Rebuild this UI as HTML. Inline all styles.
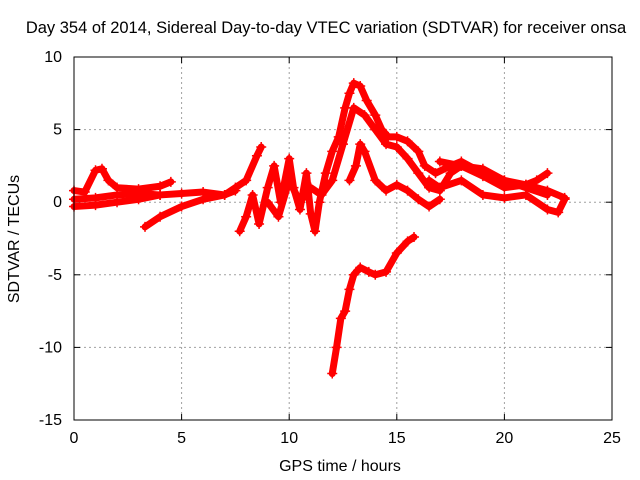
<!DOCTYPE html>
<html><head><meta charset="utf-8"><style>
body{margin:0;background:#fff;}
svg{display:block;font-family:"Liberation Sans",sans-serif;}
</style></head><body>
<svg id="chart" width="640" height="480">
<rect width="640" height="480" fill="#fff"/>
<text x="326" y="33" text-anchor="middle" font-size="16.5">Day 354 of 2014, Sidereal Day-to-day VTEC variation (SDTVAR) for receiver onsa</text>
<text x="340" y="471" text-anchor="middle" font-size="16">GPS time / hours</text>
<text transform="translate(19,239) rotate(-90)" text-anchor="middle" font-size="16">SDTVAR / TECUs</text>
<g id="grid"></g><g id="ticks"></g><g id="series"></g>
<rect x="74" y="57" width="538" height="363" fill="none" stroke="#000"/>
</svg>
<script>
const xTicks=[0,5,10,15,20,25];
const yTicks=[-15,-10,-5,0,5,10];
const s1=[[0,0.8],[0.5,0.7],[1,2.2],[1.3,2.3],[1.6,1.5],[2,1.0],[3,0.9],[4,1.1],[4.5,1.4]];
const s2=[[0,0.2],[1,0.3],[2,0.5],[3,0.6],[4,0.5],[5,0.6],[6,0.7],[7,0.5],[7.5,1.0],[8,1.5],[8.5,3.2],[8.7,3.8]];
const s3=[[0,-0.3],[1,-0.2],[2,0],[3,0.2],[4,0.5]];
const s4=[[3.3,-1.7],[4,-1],[5,-0.3],[6,0.2],[7,0.5],[7.5,0.8]];
const s5=[[7.7,-2],[8,-1],[8.3,0.5],[8.6,-1.5],[9,1],[9.3,2.5],[9.6,0],[10,3],[10.2,1],[10.5,-0.5],[10.8,2],[11,-0.8],[11.2,-2],[11.4,0],[11.7,2],[12,3.5],[12.3,4.5],[12.6,6.5],[12.8,7.5],[13,8.2],[13.3,8],[13.6,7],[14,6],[14.3,5],[14.6,4.5],[15,4.5],[15.5,4.2],[16,3.5],[16.3,2.5],[16.8,2.0],[17.5,2.5],[18,2.8],[19,2.0],[20,1.5],[21,1.2],[22,0.8],[22.8,0.3]];
const s6=[[9,0],[9.5,-1],[10,1.5],[10.5,0],[11,1],[11.5,0.5],[12,1.5],[12.5,4],[13,6.5],[13.5,6],[14,5],[14.5,4],[15,3.8],[15.5,3],[16,2],[16.5,1],[17,0.8],[17.5,2.0],[18,2.5],[19,1.8],[20,1.0],[21,1.2],[21.5,1.5],[22,2.0]];
const s7=[[12.8,1.5],[13.1,2.5],[13.3,4],[13.5,3.5],[14,1.5],[14.5,0.8],[15,1.2],[15.5,0.8],[16,0.2],[16.5,-0.3],[17,0.2]];
const s8=[[12,-11.8],[12.2,-10],[12.4,-8],[12.6,-7.5],[12.8,-6],[13,-5],[13.3,-4.5],[13.7,-4.8],[14,-5],[14.5,-4.8],[15,-3.5],[15.5,-2.7],[15.8,-2.4]];
const s9=[[16.5,1.5],[17,1.0],[18,1.5],[19,0.5],[20,0.3],[21,0.5],[22,-0.5],[22.5,-0.7],[22.8,0.2]];
const s10=[[17,2.8],[18,2.5],[19,2.3],[20,1.5],[21,1.0],[22,0.5]];
const allSeries=[s1,s2,s3,s4,s5,s6,s7,s8,s9,s10];
const NS="http://www.w3.org/2000/svg";
const X=v=>74+v*538/25, Y=v=>420-(v+15)*363/25;
function mk(t,a,p){const e=document.createElementNS(NS,t);for(const k in a)e.setAttribute(k,a[k]);p.appendChild(e);return e;}
const grid=document.getElementById('grid'),ticks=document.getElementById('ticks'),ser=document.getElementById('series');
xTicks.forEach(v=>{
 if(v>0&&v<25){const g=mk('line',{x1:X(v),x2:X(v),y1:57,y2:420,stroke:'#a0a0a0','stroke-dasharray':'2,3'},grid);
 }
 mk('line',{x1:X(v),x2:X(v),y1:420,y2:414,stroke:'#000'},ticks);mk('line',{x1:X(v),x2:X(v),y1:57,y2:63,stroke:'#000'},ticks);
 const t=mk('text',{x:X(v),y:443,'text-anchor':'middle','font-size':16},ticks);t.textContent=v;
 
});
yTicks.forEach(v=>{
 if(v>-15&&v<10){const g=mk('line',{x1:74,x2:612,y1:Y(v),y2:Y(v),stroke:'#a0a0a0','stroke-dasharray':'2,3'},grid);
 }
 mk('line',{x1:74,x2:80,y1:Y(v),y2:Y(v),stroke:'#000'},ticks);mk('line',{x1:612,x2:606,y1:Y(v),y2:Y(v),stroke:'#000'},ticks);
 const t=mk('text',{x:62,y:Y(v)+5,'text-anchor':'end','font-size':16},ticks);t.textContent=v;
 
});
allSeries.forEach((s,i)=>{
 const pl=mk('polyline',{points:s.map(p=>X(p[0])+','+Y(p[1])).join(' '),fill:'none',stroke:'#ff0000','stroke-width':7,'stroke-linejoin':'round','stroke-linecap':'round'},ser);
 
 
 s.forEach(p=>{
  const m=mk('path',{d:`M${X(p[0])-5},${Y(p[1])}h10M${X(p[0])},${Y(p[1])-5}v10`,stroke:'#ff0000','stroke-width':1.5},ser);
  
  
 });
});
</script>
</body></html>
